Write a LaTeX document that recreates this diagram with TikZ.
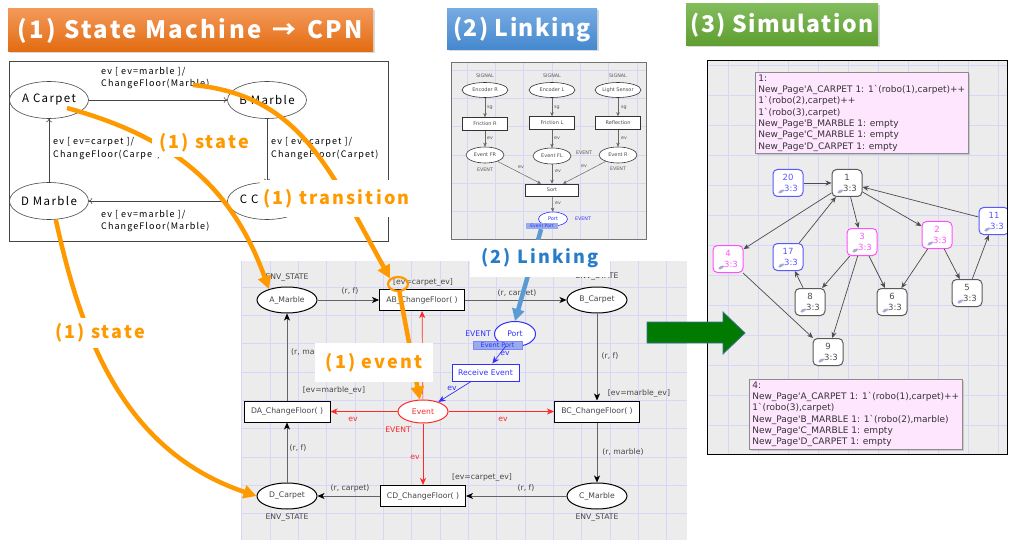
\documentclass[tikz,border=0pt]{standalone}
\usepackage{fontspec}
\setmainfont{DejaVu Sans}[Ligatures=TeXOff]
\newfontfamily\cpnfont{DejaVu Sans}[Ligatures=TeXOff]
\newfontfamily\gothic{Noto Sans CJK JP}[LetterSpace=6]
\newfontfamily\gothicH{Noto Sans CJK JP}[LetterSpace=10]
\newfontfamily\gothicW{Noto Sans CJK JP}[LetterSpace=12]
\usetikzlibrary{arrows.meta,shapes.geometric,shadows}

\definecolor{hdorangeT}{RGB}{243,152,88}
\definecolor{hdorangeB}{RGB}{226,107,16}
\definecolor{hdblueT}{RGB}{118,170,226}
\definecolor{hdblueB}{RGB}{68,136,206}
\definecolor{hdgreenT}{RGB}{130,188,92}
\definecolor{hdgreenB}{RGB}{94,158,48}
\definecolor{callout}{RGB}{255,153,0}
\definecolor{linktext}{RGB}{40,125,200}
\definecolor{linkarrow}{RGB}{91,155,213}
\definecolor{panelbg}{RGB}{236,236,236}
\definecolor{gridline}{RGB}{214,214,248}
\definecolor{smline}{RGB}{70,70,70}
\definecolor{cpnarc}{RGB}{100,100,100}
\definecolor{cpntext}{RGB}{70,70,70}
\definecolor{cpnred}{RGB}{255,40,40}
\definecolor{cpnblue}{RGB}{50,50,255}
\definecolor{tagfill}{RGB}{150,172,235}
\definecolor{simblue}{RGB}{90,90,255}
\definecolor{simmag}{RGB}{255,80,255}
\definecolor{simgray}{RGB}{90,90,90}
\definecolor{infopink}{RGB}{255,230,255}
\definecolor{cornertri}{RGB}{170,170,215}
\definecolor{bigarrow}{RGB}{0,122,0}
\definecolor{bigarrowedge}{RGB}{65,113,156}

\begin{document}
\begin{tikzpicture}[x=1pt,y=-1pt,
  header/.style={rectangle, inner sep=0, text=white,
    font=\gothic\bfseries\fontsize{23}{23}\selectfont,
    drop shadow={opacity=0.3, shadow xshift=1.5pt, shadow yshift=-1.5pt}},
  smstate/.style={ellipse, draw=smline, line width=0.6pt,
    minimum width=79pt, minimum height=37pt, inner sep=0,
    font=\gothicW\fontsize{11.5}{11.5}\selectfont},
  smtext/.style={anchor=west, align=left, inner sep=0,
    font=\gothicW\fontsize{9}{12.5}\selectfont},
  smarc/.style={draw=smline, line width=0.6pt, -{To[length=3.5pt,width=6pt]}},
  calloutbox/.style={fill=white, inner sep=0, text=callout,
    font=\gothicW\bfseries\fontsize{18}{18}\selectfont},
  calloutarc/.style={draw=callout, line width=4.5pt,
    -{Triangle[length=13pt,width=13pt]}},
  lkplace/.style={ellipse, draw=black!80, line width=0.6pt, fill=white,
    minimum width=46pt, minimum height=15pt, inner sep=0,
    font=\cpnfont\fontsize{5}{5}\selectfont, text=black!70},
  lktrans/.style={rectangle, draw=black!80, line width=0.6pt, fill=white,
    minimum width=45pt, minimum height=13pt, inner sep=0,
    font=\cpnfont\fontsize{5}{5}\selectfont, text=black!70},
  lklab/.style={font=\cpnfont\fontsize{4.8}{5}\selectfont, text=black!65, inner sep=0},
  lkarc/.style={draw=black!60, line width=0.5pt, -{Stealth[length=4pt,width=3.5pt]}},
  place/.style={ellipse, draw=black, line width=1pt, fill=white,
    minimum width=60pt, minimum height=26pt, inner sep=0,
    font=\cpnfont\fontsize{7.7}{8}\selectfont, text=cpntext},
  trans/.style={rectangle, draw=black, line width=1pt, fill=white,
    minimum width=85pt, minimum height=21pt, inner sep=0,
    font=\cpnfont\fontsize{7.7}{8}\selectfont, text=cpntext},
  arc/.style={draw=cpnarc, line width=0.7pt,
    -{Stealth[length=7pt,width=6pt,inset=2pt,color=black]}},
  redarc/.style={draw=cpnred, line width=0.7pt, -{Stealth[length=7pt,width=6pt,inset=2pt]}},
  bluearc/.style={draw=cpnblue, line width=0.7pt, -{Stealth[length=7pt,width=6pt,inset=2pt]}},
  lab/.style={font=\cpnfont\fontsize{7.7}{8}\selectfont, text=cpntext, inner sep=0},
  simnode/.style={rectangle, rounded corners=4.5pt, line width=1pt, fill=white,
    minimum width=30pt, minimum height=27pt, inner sep=0, align=center,
    font=\cpnfont\fontsize{8.5}{11}\selectfont,
    path picture={\fill[cornertri]
      ([xshift=3pt,yshift=3pt]path picture bounding box.south west)
      -- ++(8pt,0pt) -- ++(0pt,6pt) -- cycle;}},
  simarc/.style={draw=black!70, line width=0.7pt, -{Stealth[length=6pt,width=5pt]}},
  infobox/.style={anchor=north west, fill=infopink, draw=black!45, line width=0.6pt,
    align=left, inner xsep=3pt, inner ysep=2.5pt,
    font=\cpnfont\fontsize{9}{11.3}\selectfont, text=black!80,
    drop shadow={opacity=0.3, shadow xshift=1.5pt, shadow yshift=-1.5pt}}
]
\useasboundingbox (0,0) rectangle (1009,540);

% ---------- section headers ----------
\node[header, font=\gothicH\bfseries\fontsize{24}{24}\selectfont, minimum width=365pt, minimum height=43pt,
  top color=hdorangeT, bottom color=hdorangeB] (h1) at (190.5,30.5) {(1) State Machine \hspace{3pt}→\hspace{3pt} CPN};
\node[header, minimum width=150pt, minimum height=41pt,
  top color=hdblueT, bottom color=hdblueB] (h2) at (522,29.5) {(2) Linking};
\node[header, minimum width=192pt, minimum height=42pt,
  top color=hdgreenT, bottom color=hdgreenB] (h3) at (782,25) {(3) Simulation};

% ---------- state machine ----------
\draw[smline, line width=0.8pt] (9,61) rectangle (388,241);
\node[smstate] (sA) at (49,100) {A Carpet};
\node[smstate] (sB) at (267,100) {B Marble};
\node[smstate] (sC) at (267,201) {C Carpet};
\node[smstate] (sD) at (49,201) {D Marble};
\draw[smarc] (sA) -- (sB);
\draw[smarc] (sB) -- (sC);
\draw[smarc] (sC) -- (sD);
\draw[smarc] (sD) -- (sA);
\node[smtext] (tAB) at (101,78) {ev [ ev=marble ]/\\ChangeFloor(Marble)};
\node[smtext] (tBC) at (271,148.5) {ev [ ev=carpet ]/\\ChangeFloor(Carpet)};
\node[smtext] (tCD) at (101,221) {ev [ ev=marble ]/\\ChangeFloor(Marble)};
\node[smtext] (tDA) at (53,148.5) {ev [ ev=carpet ]/\\ChangeFloor(Carpet)};

% ---------- linking net ----------
\fill[panelbg] (451,63) rectangle (646,239);
\foreach \i in {0,...,6} \draw[gridline, line width=0.5pt] ({467+28.3*\i},63) -- ({467+28.3*\i},239);
\foreach \i in {0,...,5} \draw[gridline, line width=0.5pt] (451,{70+28.3*\i}) -- (646,{70+28.3*\i});
\draw[black!55, line width=1pt] (451,63) rectangle (646,239);
\node[lklab] (sig1) at (485,76) {SIGNAL};
\node[lklab] (sig2) at (552,76) {SIGNAL};
\node[lklab] (sig3) at (618,76) {SIGNAL};
\node[lkplace] (encR) at (485,90) {Encoder R};
\node[lkplace] (encL) at (552,90) {Encoder L};
\node[lkplace] (light) at (618,90) {Light Sensor};
\node[lktrans] (frR) at (485,124) {Friction R};
\node[lktrans] (frL) at (552,123) {Friction L};
\node[lktrans] (refl) at (618,123) {Reflection};
\node[lkplace, minimum width=38pt, minimum height=16pt] (evFR) at (485,155) {Event FR};
\node[lkplace, minimum width=38pt, minimum height=16pt] (evFL) at (552,156) {Event FL};
\node[lkplace, minimum width=38pt, minimum height=16pt] (evR) at (618,155) {Event R};
\node[lktrans, minimum width=53pt, minimum height=12pt] (sort) at (552,190) {Sort};
\node[lkplace, draw=cpnblue, text=cpnblue, minimum width=29pt, minimum height=14pt] (lport) at (553,219) {Port};
\draw[lkarc] (encR) -- (frR);
\draw[lkarc] (encL) -- (frL);
\draw[lkarc] (light) -- (refl);
\draw[lkarc] (frR) -- (evFR);
\draw[lkarc] (frL) -- (evFL);
\draw[lkarc] (refl) -- (evR);
\draw[lkarc] (evFR) -- (sort.150);
\draw[lkarc] (evFL) -- (sort);
\draw[lkarc] (evR) -- (sort.30);
\draw[lkarc] (sort) -- (lport);
\node[lklab] (sg1) at (490,108) {sg};
\node[lklab] (sg2) at (557,108) {sg};
\node[lklab] (sg3) at (624,108) {sg};
\node[lklab] (le1) at (490,138) {ev};
\node[lklab] (le2) at (557,138) {ev};
\node[lklab] (le3) at (624,138) {ev};
\node[lklab] (le4) at (521,167) {ev};
\node[lklab] (le5) at (558,171) {ev};
\node[lklab] (le6) at (584,166) {ev};
\node[lklab] (le7) at (558,203) {ev};
\node[lklab] (lt1) at (485,170) {EVENT};
\node[lklab] (lt2) at (584,153) {EVENT};
\node[lklab] (lt3) at (618,169) {EVENT};
\node[lklab, text=cpnblue] (lt4) at (583,219) {EVENT};
\node[rectangle, fill=tagfill, inner sep=0, minimum width=32pt, minimum height=6pt,
  text=cpnblue, font=\cpnfont\fontsize{4.5}{4.5}\selectfont] (lktag) at (542,226) {Event Port};

% ---------- coloured Petri net ----------
\fill[panelbg] (241,261) rectangle (687,540);
\foreach \i in {0,...,15} \draw[gridline, line width=0.5pt] ({241.7+28.33*\i},261) -- ({241.7+28.33*\i},540);
\foreach \i in {1,...,9} \draw[gridline, line width=0.5pt] (241,{258.7+28.33*\i}) -- (687,{258.7+28.33*\i});

\node[place] (am) at (287,300) {A\_Marble};
\node[trans] (ab) at (422,300) {AB\_ChangeFloor( )};
\node[place] (bcp) at (597,300) {B\_Carpet};
\node[trans] (bc) at (597,411.5) {BC\_ChangeFloor( )};
\node[place] (cm) at (597,496) {C\_Marble};
\node[trans] (cd) at (423,496) {CD\_ChangeFloor( )};
\node[place] (dc) at (287,496) {D\_Carpet};
\node[trans, minimum width=86pt] (da) at (287,411.5) {DA\_ChangeFloor( )};
\node[place, draw=cpnred, text=cpnred, minimum width=50pt, minimum height=23pt] (ev) at (423,411.5) {Event};
\node[place, draw=cpnblue, text=cpnblue, minimum width=41pt, minimum height=25pt] (port) at (515,334) {Port};
\node[trans, draw=cpnblue, text=cpnblue, minimum width=67pt, minimum height=17pt] (recv) at (485.5,372.5) {Receive Event};
\node[rectangle, fill=tagfill, draw=cpnblue!60, line width=0.4pt, inner sep=0,
  minimum width=49pt, minimum height=8pt, text=cpnblue,
  font=\cpnfont\fontsize{6.5}{6.5}\selectfont] (ptag) at (497.5,345.5) {Event Port};

\draw[arc] (am) -- (ab);
\draw[arc] (ab) -- (bcp);
\draw[arc] (bcp) -- (bc);
\draw[arc] (bc) -- (cm);
\draw[arc] (cm) -- (cd);
\draw[arc] (cd) -- (dc);
\draw[arc] (dc) -- (da);
\draw[arc] (da) -- (am);
\draw[redarc] (ev) -- (da);
\draw[redarc] (ev) -- (bc);
\draw[redarc] (ev) -- (ab);
\draw[redarc] (ev) -- (cd);
\draw[bluearc] (port) -- (recv);
\draw[bluearc] (recv) -- (ev);

\node[lab] (es1) at (287,278) {ENV\_STATE};
\node[lab] (es2) at (597,277) {ENV\_STATE};
\node[lab] (es3) at (597,518) {ENV\_STATE};
\node[lab] (es4) at (287,518) {ENV\_STATE};
\node[lab] (g1) at (423,282) {[ev=carpet\_ev]};
\node[lab] (g2) at (639,393) {[ev=marble\_ev]};
\node[lab] (g3) at (482,477) {[ev=carpet\_ev]};
\node[lab] (g4) at (334,390) {[ev=marble\_ev]};
\node[lab] (a1) at (350,291) {(r, f)};
\node[lab] (a2) at (517,293) {(r, carpet)};
\node[lab] (a3) at (610,356) {(r, f)};
\node[lab] (a4) at (623,452) {(r, marble)};
\node[lab] (a5) at (526,488) {(r, f)};
\node[lab] (a6) at (350,488) {(r, carpet)};
\node[lab] (a7) at (298,448) {(r, f)};
\node[lab, anchor=west] (a8) at (291,352) {(r, marble)};
\node[lab, text=cpnred] (r1) at (353,419) {ev};
\node[lab, text=cpnred] (r2) at (503,419) {ev};
\node[lab, text=cpnred] (r3) at (415,457) {ev};
\node[lab, text=cpnred] (r4) at (398,430) {EVENT};
\node[lab, text=cpnblue] (b1) at (478,334) {EVENT};
\node[lab, text=cpnblue] (b2) at (505,353) {ev};
\node[lab, text=cpnblue] (b3) at (452,388) {ev};

% ---------- state space ----------
\fill[panelbg] (707,61) rectangle (1007,454);
\foreach \i in {0,...,9} \draw[gridline, line width=0.5pt] ({728+30*\i},61) -- ({728+30*\i},454);
\foreach \i in {0,...,12} \draw[gridline, line width=0.5pt] (707,{65+30*\i}) -- (1007,{65+30*\i});
\begin{scope}
\clip (707,61) rectangle (1007,454);
\node[simnode, draw=simblue, text=simblue] (n20) at (788,183) {20\\\hspace*{6pt}3:3};
\node[simnode, draw=simgray, text=black!70] (n1) at (847,183) {1\\\hspace*{6pt}3:3};
\node[simnode, draw=simblue, text=simblue] (n11) at (994,221) {11\\\hspace*{6pt}3:3};
\node[simnode, draw=simmag, text=simmag] (n2) at (937,235) {2\\\hspace*{6pt}3:3};
\node[simnode, draw=simmag, text=simmag] (n3) at (862,242) {3\\\hspace*{6pt}3:3};
\node[simnode, draw=simmag, text=simmag] (n4) at (728,259) {4\\\hspace*{6pt}3:3};
\node[simnode, draw=simblue, text=simblue] (n17) at (788,257) {17\\\hspace*{6pt}3:3};
\node[simnode, draw=simgray, text=black!70] (n8) at (810,302) {8\\\hspace*{6pt}3:3};
\node[simnode, draw=simgray, text=black!70] (n6) at (892,302) {6\\\hspace*{6pt}3:3};
\node[simnode, draw=simgray, text=black!70] (n5) at (967,293) {5\\\hspace*{6pt}3:3};
\node[simnode, draw=simgray, text=black!70] (n9) at (828,352) {9\\\hspace*{6pt}3:3};
\draw[simarc] (n20) -- (n1);
\draw[simarc] (n1) -- (n4);
\draw[simarc] (n17) -- (n1);
\draw[simarc] (n1) -- (n3);
\draw[simarc] (n1) -- (n2);
\draw[simarc] (n11) -- (n1);
\draw[simarc] (n3) -- (n8);
\draw[simarc] (n3) -- (n6);
\draw[simarc] (n3) -- (n9);
\draw[simarc] (n2) -- (n6);
\draw[simarc] (n2) -- (n5);
\draw[simarc] (n5) -- (n11);
\draw[simarc] (n8) -- (n17);
\draw[simarc] (n4) -- (n9);
\node[infobox] (info1) at (755,72) {1:\\
New\_Page'A\_CARPET 1: 1`(robo(1),carpet)++\\
1`(robo(2),carpet)++\\
1`(robo(3),carpet)\\
New\_Page'B\_MARBLE 1: empty\\
New\_Page'C\_MARBLE 1: empty\\
New\_Page'D\_CARPET 1: empty};
\node[infobox] (info4) at (749,379) {4:\\
New\_Page'A\_CARPET 1: 1`(robo(1),carpet)++\\
1`(robo(3),carpet)\\
New\_Page'B\_MARBLE 1: 1`(robo(2),marble)\\
New\_Page'C\_MARBLE 1: empty\\
New\_Page'D\_CARPET 1: empty};
\end{scope}
\draw[black, line width=1pt] (707,61) rectangle (1007,454);

% ---------- block arrow between net and state space ----------
\filldraw[fill=bigarrow, draw=bigarrowedge, line width=0.8pt]
  (647,322) -- (723,322) -- (723,312) -- (745,333) -- (723,354) -- (723,343) -- (647,343) -- cycle;

% ---------- orange callouts ----------
\coordinate (o1) at (67,108);
\coordinate (o2) at (193,85);
\node[draw=callout, line width=2.2pt, ellipse, minimum width=20pt, minimum height=14pt, inner sep=0] (evring) at (398,284) {};
\draw[calloutarc] (o1) .. controls (165,135) and (230,180) .. (am.149);
\draw[calloutarc] (o2) .. controls (300,95) and (330,170) .. (evring.145);
\draw[calloutarc] (sD.-70) .. controls (80,330) and (120,450) .. (dc.west);
\draw[calloutarc] (evring.280) -- (ev.105);
\node[calloutbox, minimum width=104pt, minimum height=28pt] (c1) at (204,143) {(1) state};
\node[calloutbox, minimum width=153pt, minimum height=37pt] (c2) at (336.5,198.5) {(1) transition};
\node[calloutbox, minimum width=104pt, minimum height=30pt] (c3) at (100,333) {(1) state};
\node[calloutbox, minimum width=118pt, minimum height=39pt] (c4) at (374,362.5) {(1) event};

% ---------- linking arrow ----------
\draw[draw=linkarrow, line width=4.5pt, -{Triangle[length=12pt,width=12pt]}] (lktag) -- (port.north);
\node[calloutbox, text=linktext, minimum width=140pt, minimum height=37pt] (c5) at (540,258.5) {(2) Linking};
\end{tikzpicture}
\end{document}
